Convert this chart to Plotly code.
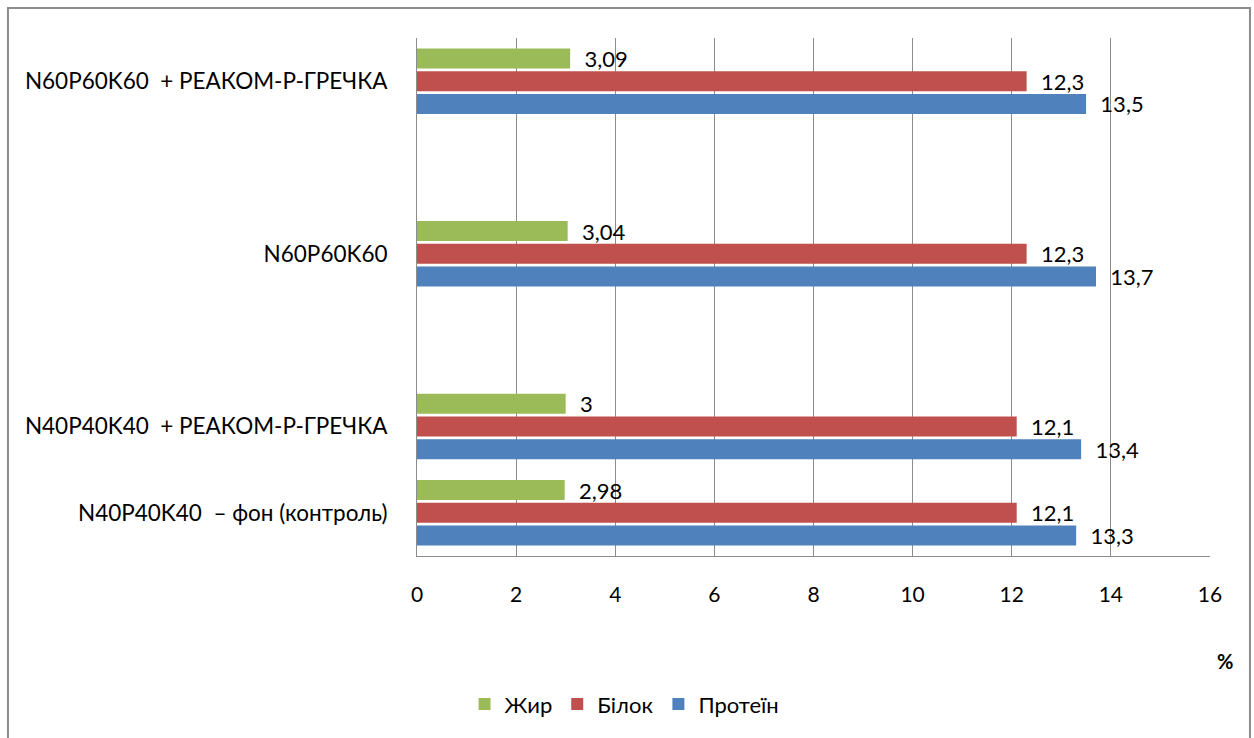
import plotly.graph_objects as go

categories = ["N40P40K40  – фон (контроль)", "N40P40K40  + РЕАКОМ-Р-ГРЕЧКА", " ",
              "N60P60K60", "  ", "N60P60K60  + РЕАКОМ-Р-ГРЕЧКА"]
protein = [13.3, 13.4, None, 13.7, None, 13.5]
bilok = [12.1, 12.1, None, 12.3, None, 12.3]
zhyr = [2.98, 3.0, None, 3.04, None, 3.09]
x_ticks = [0, 2, 4, 6, 8, 10, 12, 14, 16]

FONT = "Lato"


def labels(vals):
    return ["" if v is None else "  " + f"{v:g}".replace(".", ",") for v in vals]


fig = go.Figure()
for name, vals, color in [("Протеїн", protein, "#4F81BD"),
                          ("Білок", bilok, "#C0504D"),
                          ("Жир", zhyr, "#9BBB59")]:
    fig.add_trace(go.Bar(
        y=categories, x=vals, name=name, orientation="h",
        marker=dict(color=color, line=dict(width=0)),
        text=labels(vals), textposition="outside", cliponaxis=False,
        constraintext="none",
        textfont=dict(family=FONT, size=22, color="black"),
    ))

fig.update_layout(
    width=1254, height=738,
    margin=dict(l=417, r=44, t=38, b=182),
    barmode="group", bargap=0.21, bargroupgap=0.12,
    plot_bgcolor="white", paper_bgcolor="white",
    font=dict(family=FONT, size=20, color="black"),
    showlegend=True,
    legend=dict(orientation="h", traceorder="reversed", x=0.06, xanchor="left",
                y=-0.286, yanchor="middle", font=dict(family=FONT, size=22),
                itemwidth=30),
    xaxis=dict(range=[0, 16], tickvals=x_ticks, ticktext=[str(t) for t in x_ticks],
               showgrid=True, gridcolor="#8C8C8C", gridwidth=1,
               showline=True, linecolor="#8C8C8C", linewidth=1,
               zeroline=False, ticks="", ticklabelstandoff=20,
               tickfont=dict(family=FONT, size=21)),
    yaxis=dict(categoryorder="array", categoryarray=categories,
               showline=True, linecolor="#8C8C8C", linewidth=1,
               showgrid=False, ticks="", ticklabelstandoff=24,
               tickfont=dict(family=FONT, size=22.5)),
)

fig.add_annotation(text="<b>%</b>", xref="paper", yref="paper", x=1.019, y=-0.203,
                   xanchor="center", yanchor="middle",
                   showarrow=False, font=dict(family=FONT, size=20))

fig.add_shape(type="rect", xref="paper", yref="paper",
              x0=-0.5158, x1=1.0504, y0=-0.38, y1=1.058,
              line=dict(color="#8C8C8C", width=2), layer="below")

fig.write_html("out.html")
